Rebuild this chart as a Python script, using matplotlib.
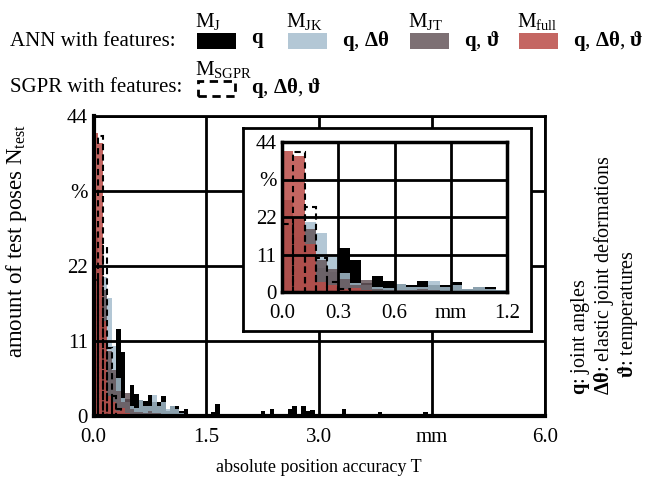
import numpy as np
import matplotlib
matplotlib.use("Agg")
import matplotlib.pyplot as plt
from matplotlib.patches import Rectangle

plt.rcParams['font.family'] = ['Liberation Serif', 'DejaVu Serif']
plt.rcParams['mathtext.fontset'] = 'custom'
plt.rcParams['mathtext.rm'] = 'Liberation Serif'
plt.rcParams['mathtext.it'] = 'Liberation Serif:italic'
plt.rcParams['mathtext.bf'] = 'Liberation Serif:bold'
plt.rcParams['mathtext.fallback'] = 'stix'

# share of test poses in % per 0.06 mm bin, first bin starts at 0 mm
bin_width = 0.06
n_bins = 100
m_j = [4, 7, 8, 7, 6, 12.8, 9.4, 2.5, 4.6, 3.3, 2.4, 2.2, 3.1, 2.0, 2.0, 3.0, 0.8, 1.4, 1.5, 0.7, 1.0]
m_j_tail_bins = [26, 27, 37, 39, 43, 44, 46, 47, 48, 55, 63, 73]
m_j_tail_vals = [0.6, 1.75, 0.7, 1.0, 1.0, 1.5, 1.5, 0.7, 0.9, 1.0, 0.6, 0.6]
m_jk = [12, 16, 20.4, 17.3, 10.2, 5.6, 2.7, 2.0, 1.5, 1.2, 2.4, 1.5, 1.5, 3.1, 1.5, 2.0, 1.0, 1.5, 1.0, 0.5]
m_jt = [27, 22, 18.5, 9.5, 6.7, 3.7, 2.0, 3.4, 1.0, 0.6, 0.6, 0.5, 0.8, 0.5, 0.4]
m_full = [41.5, 40, 14, 3, 2, 0.8, 1.2, 0.5]
m_sgpr = [20, 41, 25, 10, 3, 1]

colors = {"M_J": "#000000", "M_JK": "#a6bece", "M_JT": "#66575c", "M_full": "#ba4b46"}
FS = 15
W, H = 645, 478


def full(vals):
    h = np.zeros(n_bins)
    h[:len(vals)] = vals
    return h


h_j = full(m_j)
h_j[m_j_tail_bins] = m_j_tail_vals
series = [(h_j, colors["M_J"], 1.0), (full(m_jk), colors["M_JK"], 0.85),
          (full(m_jt), colors["M_JT"], 0.85), (full(m_full), colors["M_full"], 0.85)]
h_sgpr = full(m_sgpr)
edges = np.arange(n_bins) * bin_width


def draw_hist(ax, dash_lw):
    for h, c, a in series:
        m = h > 0
        ax.bar(edges[m], h[m], width=bin_width, align='edge', color=c, alpha=a, linewidth=0, zorder=2)
    m = h_sgpr > 0
    ax.bar(edges[m], h_sgpr[m], width=bin_width, align='edge', fill=False, edgecolor='k',
           linestyle=(0, (3, 2)), linewidth=dash_lw, zorder=3)
    ax.set_ylim(0, 44)
    ax.set_yticks([0, 11, 22, 33, 44], ['0', '11', '22', '%', '44'])
    ax.grid(True, color='k', linewidth=2)
    ax.set_axisbelow(False)
    ax.tick_params(length=0, labelsize=FS, pad=4)


def fx(x):
    return x / W


def fy(y):
    return 1 - y / H


fig = plt.figure(figsize=(6.45, 4.78), dpi=100)

# main axes
ax = fig.add_axes([fx(93.5), fy(416), fx(545 - 93.5), (416 - 116) / H])
draw_hist(ax, 1.5)
ax.set_xlim(0, 6)
ax.set_xticks([0, 1.5, 3.0, 4.5, 6.0], ['0.0', '1.5', '3.0', 'mm', '6.0'])
ax.tick_params(axis='x', pad=9)
for s in ['left', 'bottom']:
    ax.spines[s].set_linewidth(3)
for s in ['top', 'right']:
    ax.spines[s].set_linewidth(2)
ax.set_xlabel('absolute position accuracy T', fontsize=13, labelpad=8)
ax.set_ylabel(r'amount of test poses N$_\mathrm{test}$', fontsize=16.5)
ax.yaxis.set_label_coords(-0.143, 0.583)

# white frame behind the zoomed view
box = fig.add_axes([fx(243), fy(331), fx(531 - 243), (331 - 128) / H])
box.set_xticks([])
box.set_yticks([])
box.set_facecolor('white')
for s in box.spines.values():
    s.set_linewidth(2)

ins = fig.add_axes([fx(282), fy(292), fx(507 - 282), (292 - 142) / H])
draw_hist(ins, 1.5)
ins.set_xlim(0, 1.2)
ins.set_xticks([0, 0.3, 0.6, 0.9, 1.2], ['0.0', '0.3', '0.6', 'mm', '1.2'])
ins.tick_params(axis='x', pad=9)
for s in ins.spines.values():
    s.set_linewidth(2.5)

# legend drawn by hand
fig.text(fx(10), fy(41), 'ANN with features:', fontsize=FS, va='center')
fig.text(fx(10), fy(88), 'SGPR with features:', fontsize=FS, va='center')
leg = [("M_J", r"M$_\mathrm{J}$", 197, r"$\mathbf{q}$"),
       ("M_JK", r"M$_\mathrm{JK}$", 288, r"$\mathbf{q}$, $\mathbf{\Delta\theta}$"),
       ("M_JT", r"M$_\mathrm{JT}$", 410, r"$\mathbf{q}$, $\mathbf{\vartheta}$"),
       ("M_full", r"M$_\mathrm{full}$", 519, r"$\mathbf{q}$, $\mathbf{\Delta\theta}$, $\mathbf{\vartheta}$")]
for key, name, x0, feat in leg:
    a = 1.0 if key == "M_J" else 0.85
    fig.patches.append(Rectangle((fx(x0), fy(49)), fx(39), 16 / H, transform=fig.transFigure,
                                 facecolor=colors[key], alpha=a, edgecolor='none'))
    fig.text(fx(x0 - 2), fy(22), name, fontsize=FS, va='center')
    fig.text(fx(x0 + 54), fy(41), feat, fontsize=FS, va='center')
fig.patches.append(Rectangle((fx(198), fy(96)), fx(37), 15 / H, transform=fig.transFigure,
                             fill=False, edgecolor='k', linestyle=(0, (3, 2)), linewidth=2))
fig.text(fx(195), fy(69), r"M$_\mathrm{SGPR}$", fontsize=FS, va='center')
fig.text(fx(251), fy(88), r"$\mathbf{q}$, $\mathbf{\Delta\theta}$, $\mathbf{\vartheta}$",
         fontsize=FS, va='center')

# feature explanation on the right
fig.text(fx(581), fy(395), r"$\mathbf{q}$: joint angles", fontsize=14.5, rotation=90,
         ha='center', va='bottom')
fig.text(fx(604), fy(395), r"$\mathbf{\Delta\theta}$: elastic joint deformations", fontsize=14.5,
         rotation=90, ha='center', va='bottom')
fig.text(fx(628), fy(378), r"$\mathbf{\vartheta}$: temperatures", fontsize=14.5, rotation=90,
         ha='center', va='bottom')

fig.savefig('out.png', dpi=100)
